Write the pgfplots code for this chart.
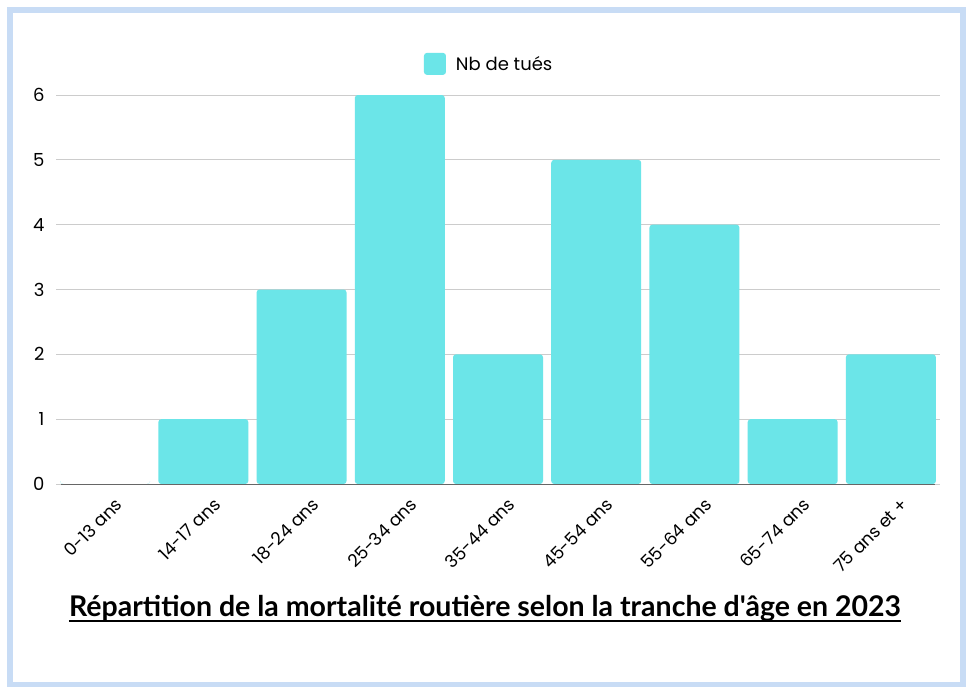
\documentclass[border=0pt]{standalone}
\usepackage{pgfplots}
\pgfplotsset{compat=1.18}
\usepackage{fontspec}
\setmainfont{Poppins}
\newfontfamily\titlefont{Lato}
\definecolor{barc}{HTML}{6BE5E8}
\definecolor{framec}{HTML}{C8DCF5}
\definecolor{gridc}{HTML}{CCCCCC}
\begin{document}
\begin{tikzpicture}[x=1pt,y=1pt]
\path[use as bounding box] (0,0) rectangle (968,-687);
\fill[white] (0,0) rectangle (968,-687);
\draw[framec, line width=6pt] (10,-10) rectangle (962.5,-685);
\begin{axis}[
  at={(56pt,-484pt)}, anchor=south west,
  scale only axis, width=884pt, height=389pt,
  xmin=-0.5, xmax=8.5, ymin=0, ymax=6,
  ybar, bar width=90pt,
  axis line style={draw=none},
  major tick length=0pt,
  ytick={0,1,2,3,4,5,6},
  ymajorgrids, grid style={gridc, line width=0.8pt},
  xtick={0,1,2,3,4,5,6,7,8},
  xticklabels={0-13 ans,14-17 ans,18-24 ans,25-34 ans,35-44 ans,45-54 ans,55-64 ans,65-74 ans,75 ans et +},
  xticklabel style={rotate=45, anchor=north east, font=\fontsize{17.5}{19}\selectfont, xshift=1pt, yshift=-12pt},
  yticklabel style={font=\fontsize{18}{20}\selectfont, xshift=-8pt},
  /pgf/number format/assume math mode=true,
  legend style={at={(0.49,1.08)}, anchor=center, draw=none, fill=none, font=\fontsize{18}{20}\selectfont, legend cell align=left, /tikz/every odd column/.style={column sep=8pt}},
  legend image code/.code={\fill[barc] (0pt,-11pt) rectangle (22pt,11pt);},
  clip=false,
]
\addplot[fill=barc, draw=none, rounded corners=3pt] coordinates {(0,0) (1,1) (2,3) (3,6) (4,2) (5,5) (6,4) (7,1) (8,2)};
\addlegendentry{Nb de tués}
\draw[gray!80!black, line width=0.8pt] (axis cs:-0.45,0) -- (axis cs:8.45,0);
\end{axis}
\node[font=\titlefont\bfseries\fontsize{28.5}{32}\selectfont, anchor=base, inner sep=0pt] (T) at (485,-616) {Répartition de la mortalité routière selon la tranche d'âge en 2023};
\draw[black, line width=2.2pt] ([yshift=-5pt]T.base west) -- ([yshift=-5pt]T.base east);
\end{tikzpicture}
\end{document}
